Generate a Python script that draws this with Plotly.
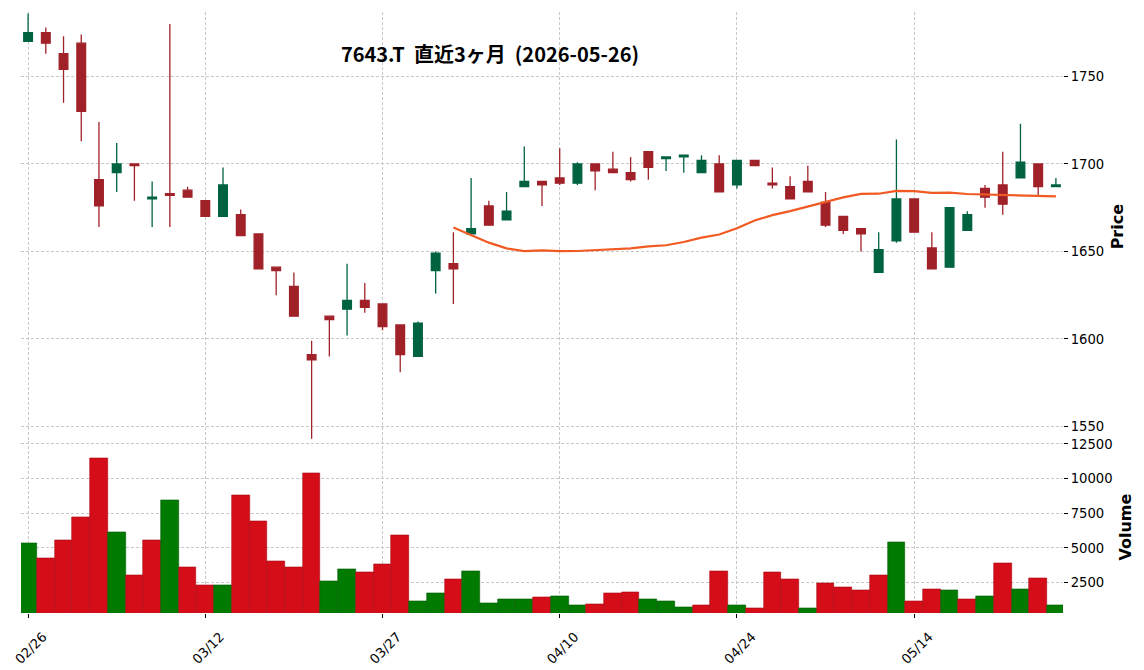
import pandas as pd
import plotly.graph_objects as go
from plotly.subplots import make_subplots

dates = ["02/26", "02/27", "03/02", "03/03", "03/04", "03/05", "03/06", "03/09", "03/10", "03/11",
         "03/12", "03/13", "03/16", "03/17", "03/18", "03/19", "03/23", "03/24", "03/25", "03/26",
         "03/27", "03/30", "03/31", "04/01", "04/02", "04/03", "04/06", "04/07", "04/08", "04/09",
         "04/10", "04/13", "04/14", "04/15", "04/16", "04/17", "04/20", "04/21", "04/22", "04/23",
         "04/24", "04/27", "04/28", "04/30", "05/01", "05/07", "05/08", "05/11", "05/12", "05/13",
         "05/14", "05/15", "05/18", "05/19", "05/20", "05/21", "05/22", "05/25", "05/26"]

opens = [1770, 1775, 1763, 1769, 1691, 1695, 1700, 1680, 1683, 1685,
         1679, 1670, 1671, 1660, 1641, 1630, 1591, 1613, 1617, 1622,
         1620, 1608, 1590, 1639, 1643, 1660, 1676, 1668, 1687, 1690,
         1692, 1689, 1700, 1697, 1695, 1707, 1703, 1704, 1695, 1700,
         1688, 1702, 1689, 1687, 1690, 1678, 1670, 1663, 1638, 1656,
         1680, 1652, 1641, 1662, 1686, 1688, 1692, 1700, 1687]
highs = [1786, 1778, 1773, 1774, 1724, 1712, 1700, 1690, 1780, 1687,
         1679, 1698, 1674, 1660, 1641, 1638, 1599, 1613, 1643, 1632,
         1620, 1608, 1610, 1650, 1661, 1692, 1679, 1684, 1710, 1690,
         1709, 1701, 1700, 1707, 1704, 1707, 1704, 1705, 1705, 1705,
         1702, 1702, 1698, 1693, 1699, 1684, 1670, 1663, 1661, 1714,
         1680, 1661, 1675, 1673, 1688, 1707, 1723, 1700, 1692]
lows = [1770, 1763, 1735, 1713, 1664, 1684, 1679, 1664, 1664, 1681,
        1670, 1670, 1659, 1640, 1625, 1613, 1543, 1590, 1602, 1615,
        1605, 1581, 1590, 1626, 1620, 1660, 1665, 1668, 1687, 1676,
        1688, 1688, 1685, 1695, 1690, 1691, 1696, 1695, 1695, 1684,
        1686, 1699, 1686, 1680, 1684, 1664, 1660, 1650, 1638, 1655,
        1661, 1640, 1641, 1662, 1675, 1671, 1692, 1682, 1687]
closes = [1775, 1769, 1754, 1730, 1676, 1700, 1699, 1681, 1682, 1681,
          1670, 1688, 1659, 1640, 1639, 1613, 1588, 1611, 1622, 1618,
          1607, 1591, 1609, 1649, 1640, 1663, 1665, 1673, 1690, 1688,
          1689, 1700, 1696, 1695, 1691, 1698, 1704, 1705, 1702, 1684,
          1702, 1699, 1688, 1680, 1684, 1665, 1662, 1660, 1651, 1680,
          1661, 1640, 1675, 1671, 1681, 1677, 1701, 1687, 1688]
volumes = [5330, 4250, 5550, 7200, 11500, 6120, 3030, 5550, 8420, 3600,
           2310, 2310, 8780, 6910, 4040, 3600, 10370, 2600, 3460, 3240,
           3820, 5900, 1160, 1730, 2740, 3320, 1010, 1300, 1300, 1450,
           1520, 870, 930, 1730, 1800, 1290, 1150, 720, 860, 3320,
           860, 640, 3250, 2740, 640, 2450, 2160, 1940, 3030, 5420,
           1150, 2020, 1940, 1290, 1510, 3900, 2020, 2810, 860]

title_text = "7643.T  直近3ヶ月  (2026-05-26)"
ma_window = 25
tick_step = 10
price_ticks = [1550, 1600, 1650, 1700, 1750]
volume_ticks = [2500, 5000, 7500, 10000, 12500]

UP_C, DOWN_C = "#006340", "#A02128"
VUP_C, VDOWN_C = "#007A00", "#D50D18"
MA_C = "#F15A22"
GRID_C = "#c8c8c8"

idx = list(range(len(dates)))
ma = pd.Series(closes).rolling(ma_window).mean()
vol_colors = [VUP_C if (i == 0 or closes[i] >= closes[i - 1]) else VDOWN_C for i in idx]
vol_edge = ["#005c00" if c == VUP_C else "#a80a12" for c in vol_colors]
tickvals = idx[::tick_step]
ticktext = [dates[i] for i in tickvals]

fig = make_subplots(rows=2, cols=1, shared_xaxes=True, vertical_spacing=0,
                    row_heights=[5, 2])

fig.add_trace(go.Candlestick(
    x=idx, open=opens, high=highs, low=lows, close=closes,
    increasing=dict(fillcolor=UP_C, line=dict(color=UP_C, width=1.3)),
    decreasing=dict(fillcolor=DOWN_C, line=dict(color=DOWN_C, width=1.3)),
    whiskerwidth=0, showlegend=False, hoverinfo="skip"), row=1, col=1)

fig.add_trace(go.Scatter(
    x=idx, y=ma, mode="lines", line=dict(color=MA_C, width=2.2),
    showlegend=False, hoverinfo="skip"), row=1, col=1)

fig.add_trace(go.Bar(
    x=idx, y=volumes, width=1.0,
    marker=dict(color=vol_colors, line=dict(color=vol_edge, width=0.6)),
    showlegend=False, hoverinfo="skip"), row=2, col=1)

axis_font = dict(family="DejaVu Sans", size=13.2, color="#000000")
title_font = dict(family="DejaVu Sans", size=16, color="#000000", weight="bold")

fig.update_xaxes(range=[-0.4, len(dates) - 0.6], tickvals=tickvals, ticktext=ticktext,
                 showgrid=True, gridcolor=GRID_C, griddash="3px,2px", gridwidth=0.8,
                 zeroline=False, showline=False, rangeslider_visible=False,
                 automargin=False)
fig.update_xaxes(showticklabels=False, ticks="", row=1, col=1)
fig.update_xaxes(showticklabels=True, ticks="outside", ticklen=4, tickwidth=1,
                 tickcolor="#000000", tickangle=-45, tickfont=axis_font,
                 ticklabelshift=15, ticklabelstandoff=6, row=2, col=1)

fig.update_yaxes(side="right", showgrid=True, gridcolor=GRID_C, griddash="3px,2px",
                 gridwidth=0.8, zeroline=False, showline=False, ticks="outside",
                 ticklen=4, tickwidth=1, tickcolor="#000000", tickfont=axis_font,
                 tickformat="d", automargin=False)
fig.update_yaxes(range=[1541.5, 1786.8], tickvals=price_ticks,
                 title=dict(text="Price", font=title_font, standoff=8), row=1, col=1)
fig.update_yaxes(range=[310, 12694], tickvals=volume_ticks,
                 title=dict(text="Volume", font=title_font, standoff=8), row=2, col=1)

fig.update_layout(
    width=1144, height=670,
    margin=dict(l=21, r=81, t=12, b=57),
    paper_bgcolor="#ffffff", plot_bgcolor="#ffffff",
    bargap=0,
    title=dict(text=title_text, x=(490 - 21) / 1042, xref="paper", xanchor="center",
               y=1 - 55 / 670, yref="container", yanchor="middle",
               font=dict(family="Noto Sans CJK JP", size=20, color="#000000", weight="bold")),
)

fig.write_html("out.html")
